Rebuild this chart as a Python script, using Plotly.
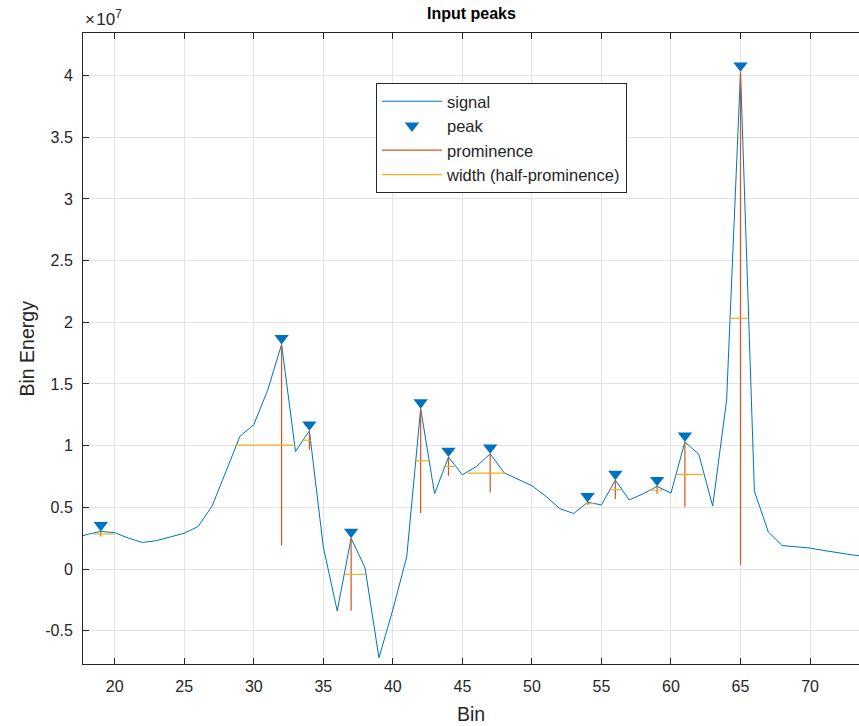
import plotly.graph_objects as go

# ---------------- data (signal values in units of 1e7) ----------------
SCALE = 1e7
bins = list(range(17, 75))
signal = [0.245, 0.28, 0.305, 0.295, 0.25, 0.215, 0.23, 0.26, 0.29, 0.345,
          0.51, 0.79, 1.075, 1.17, 1.45, 1.82, 0.953, 1.12, 0.18, -0.34,
          0.25, 0.01, -0.72, -0.33, 0.10, 1.30, 0.61, 0.907, 0.764, 0.83,
          0.934, 0.78, 0.73, 0.675, 0.59, 0.49, 0.45, 0.54, 0.52, 0.72,
          0.56, 0.61, 0.67, 0.615, 1.03, 0.93, 0.51, 1.37, 4.03, 0.63,
          0.30, 0.19, 0.18, 0.17, 0.15, 0.13, 0.115, 0.10]

peak_bins = [19, 32, 34, 37, 42, 44, 47, 54, 56, 59, 61, 65]
peak_vals = [0.305, 1.82, 1.12, 0.25, 1.30, 0.907, 0.934, 0.54, 0.72, 0.67, 1.03, 4.03]
prom_base = [0.263, 0.19, 0.967, -0.338, 0.454, 0.756, 0.62, 0.52, 0.567, 0.61, 0.504, 0.034]
width_left = [18.47, 28.64, 33.5, 36.55, 41.62, 43.64, 45.36, 53.9, 55.53, 58.45, 60.37, 64.22]
width_right = [20.0, 32.95, 34.1, 38.0, 42.6, 44.43, 48.1, 54.43, 56.42, 59.4, 62.29, 65.52]

x_ticks = [20, 25, 30, 35, 40, 45, 50, 55, 60, 65, 70]
y_ticks = [-0.5, 0, 0.5, 1, 1.5, 2, 2.5, 3, 3.5, 4]
y_tick_labels = ["-0.5", "0", "0.5", "1", "1.5", "2", "2.5", "3", "3.5", "4"]

# ---------------- styling ----------------
BLUE = "#0072BD"
ORANGE = "#D95319"
YELLOW = "#EDB120"
AX = "#262626"
GRID = "#e3e3e3"
FONT = "Liberation Sans, Arial, sans-serif"

W, H = 859, 726
ML, MR, MT, MB = 83, 0, 33, 62
X_RANGE = [17.72, 73.52]
Y_RANGE = [-0.77 * SCALE, 4.345 * SCALE]
plot_h = H - MT - MB
MARKER_SIZE = 12.5
marker_off = (MARKER_SIZE / 2) * (Y_RANGE[1] - Y_RANGE[0]) / plot_h

sig_y = [v * SCALE for v in signal]
pk_y = [v * SCALE for v in peak_vals]
pk_marker_y = [v + marker_off for v in pk_y]

prom_x, prom_y = [], []
for b, top, base in zip(peak_bins, pk_y, prom_base):
    prom_x += [b, b, None]
    prom_y += [top, base * SCALE, None]

wid_x, wid_y = [], []
for l, r, top, base in zip(width_left, width_right, pk_y, prom_base):
    ref = (top + base * SCALE) / 2
    wid_x += [l, r, None]
    wid_y += [ref, ref, None]

fig = go.Figure()
fig.add_trace(go.Scatter(x=bins, y=sig_y, mode="lines", name="signal",
                         line=dict(color=BLUE, width=1)))
fig.add_trace(go.Scatter(x=peak_bins, y=pk_marker_y, mode="markers", name="peak",
                         marker=dict(symbol="triangle-down", size=MARKER_SIZE,
                                     color=BLUE, line=dict(width=0))))
fig.add_trace(go.Scatter(x=prom_x, y=prom_y, mode="lines", name="prominence",
                         line=dict(color=ORANGE, width=1.2)))
fig.add_trace(go.Scatter(x=wid_x, y=wid_y, mode="lines", name="width (half-prominence)",
                         line=dict(color=YELLOW, width=1.2)))

axis_common = dict(showline=True, linecolor=AX, linewidth=1, ticks="inside",
                   ticklen=6, tickcolor=AX, tickwidth=1, showgrid=True,
                   gridcolor=GRID, gridwidth=1, zeroline=False,
                   tickfont=dict(family=FONT, size=16, color=AX))


def py_to_paper(py):
    return (H - MB - py) / plot_h


def px_to_paper(px):
    return (px - ML) / (W - ML - MR)


fig.update_layout(
    width=W, height=H,
    margin=dict(l=ML, r=MR, t=MT, b=MB),
    paper_bgcolor="white", plot_bgcolor="white",
    font=dict(family=FONT, color=AX),
    xaxis=dict(range=X_RANGE, tickvals=x_ticks, mirror="ticks",
               ticklabelstandoff=8, **axis_common),
    yaxis=dict(range=Y_RANGE, tickvals=[v * SCALE for v in y_ticks],
               ticktext=y_tick_labels, mirror=False, ticklabelstandoff=6,
               **axis_common),
    showlegend=True,
    legend=dict(x=px_to_paper(376), y=py_to_paper(83), xanchor="left", yanchor="top",
                bgcolor="white", bordercolor=AX, borderwidth=1,
                font=dict(family=FONT, size=16.5, color=AX),
                itemwidth=60, tracegroupgap=0),
    annotations=[
        dict(text="<b>Input peaks</b>", x=0.5, y=py_to_paper(13), yanchor="middle",
             xref="paper", yref="paper",
             showarrow=False, font=dict(family=FONT, size=16, color="black")),
        dict(text="Bin", x=0.5, y=py_to_paper(714), yanchor="middle",
             xref="paper", yref="paper",
             showarrow=False, font=dict(family=FONT, size=19.5, color=AX)),
        dict(text="Bin Energy", x=px_to_paper(26), xanchor="center", y=0.5,
             xref="paper", yref="paper", textangle=-90, showarrow=False,
             font=dict(family=FONT, size=19.5, color=AX)),
        dict(text="×\u200a10<sup>7</sup>", x=px_to_paper(83), y=py_to_paper(31),
             xref="paper", yref="paper", xanchor="left", yanchor="bottom",
             showarrow=False, font=dict(family=FONT, size=17, color=AX)),
    ],
)

fig.write_html("out.html")
